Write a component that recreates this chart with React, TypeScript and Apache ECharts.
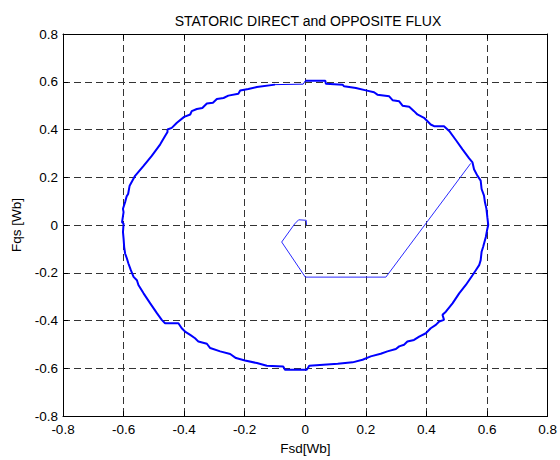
import React, { useEffect, useRef } from "react";
import * as echarts from "echarts";

const xTicks = [-0.8, -0.6, -0.4, -0.2, 0, 0.2, 0.4, 0.6, 0.8];
const yTicks = [-0.8, -0.6, -0.4, -0.2, 0, 0.2, 0.4, 0.6, 0.8];

// Thick circular flux trajectory, read clockwise from the top
const upperRight: number[][] = [
  [0.0, 0.604], [0.066, 0.604], [0.068, 0.592], [0.123, 0.588], [0.128, 0.581], [0.167, 0.574],
  [0.2, 0.564], [0.227, 0.556], [0.238, 0.546], [0.277, 0.539], [0.288, 0.523], [0.31, 0.518],
  [0.321, 0.5], [0.343, 0.495], [0.359, 0.477], [0.37, 0.463], [0.392, 0.449], [0.414, 0.421],
  [0.425, 0.414], [0.458, 0.414], [0.475, 0.394], [0.497, 0.356], [0.519, 0.317], [0.541, 0.279],
  [0.552, 0.262], [0.557, 0.234], [0.568, 0.207], [0.579, 0.186], [0.582, 0.151], [0.59, 0.123],
  [0.593, 0.096], [0.598, 0.068], [0.601, 0.033], [0.604, 0.0],
];
const lowerRight: number[][] = [
  [0.6, -0.022], [0.596, -0.05], [0.587, -0.092], [0.582, -0.112], [0.579, -0.147], [0.574, -0.168],
  [0.563, -0.189], [0.552, -0.21], [0.53, -0.251], [0.508, -0.286], [0.486, -0.328], [0.464, -0.363],
  [0.453, -0.376], [0.458, -0.397], [0.442, -0.404], [0.431, -0.418], [0.414, -0.432], [0.398, -0.453],
  [0.376, -0.467], [0.359, -0.481], [0.337, -0.488], [0.326, -0.501], [0.31, -0.508], [0.299, -0.519],
  [0.271, -0.529], [0.249, -0.539], [0.216, -0.55], [0.189, -0.564], [0.156, -0.575], [0.107, -0.581],
  [0.013, -0.589], [0.008, -0.6],
];
const lowerLeft: number[][] = [
  [0.004, -0.606], [-0.067, -0.606], [-0.073, -0.592], [-0.127, -0.589], [-0.16, -0.578], [-0.199, -0.567],
  [-0.229, -0.557], [-0.248, -0.54], [-0.281, -0.529], [-0.314, -0.515], [-0.325, -0.497], [-0.353, -0.488],
  [-0.364, -0.474], [-0.38, -0.46], [-0.397, -0.446], [-0.408, -0.432], [-0.419, -0.411], [-0.463, -0.411],
  [-0.474, -0.397], [-0.49, -0.369], [-0.512, -0.328], [-0.534, -0.286], [-0.551, -0.251], [-0.556, -0.231],
  [-0.567, -0.217], [-0.576, -0.189], [-0.584, -0.161], [-0.589, -0.14], [-0.595, -0.119], [-0.598, -0.092],
  [-0.6, -0.057], [-0.602, -0.029], [-0.6, 0.006],
];
const upperLeft: number[][] = [
  [-0.605, 0.012], [-0.6, 0.054], [-0.602, 0.068], [-0.595, 0.096], [-0.59, 0.12], [-0.585, 0.13],
  [-0.58, 0.165], [-0.562, 0.206], [-0.534, 0.248], [-0.507, 0.29], [-0.479, 0.338], [-0.463, 0.373],
  [-0.455, 0.39], [-0.455, 0.4], [-0.441, 0.407], [-0.424, 0.428], [-0.4, 0.453], [-0.38, 0.463],
  [-0.375, 0.477], [-0.358, 0.486], [-0.34, 0.49], [-0.325, 0.509], [-0.305, 0.512], [-0.292, 0.528],
  [-0.27, 0.532], [-0.254, 0.542], [-0.221, 0.55], [-0.215, 0.563], [-0.188, 0.57], [-0.16, 0.578],
  [-0.1, 0.588],
];
// Thin segment at the top of the circle
const topThin: number[][] = [[-0.1, 0.588], [-0.007, 0.59], [0.0, 0.604]];
// Thin start-up transient from the origin to the circle
const transient: number[][] = [
  [0.004, 0.0], [0.003, 0.02], [-0.022, 0.022], [-0.035, 0.005], [-0.078, -0.071],
  [0.0, -0.218], [0.266, -0.218], [0.546, 0.258],
];

const fmt = (v: number) => String(Math.round(v * 10) / 10);
const FONT = "Liberation Sans";

export default function App() {
  const ref = useRef<HTMLDivElement>(null);
  useEffect(() => {
    if (!ref.current) return;
    const chart = echarts.init(ref.current, null, { renderer: "svg" });
    const circle = [...upperRight, ...lowerRight, ...lowerLeft, ...upperLeft];
    const tickStyle = { show: true, inside: true, length: 5, lineStyle: { color: "#000", width: 1 } };
    const lineStyleAxis = { show: true, onZero: false, lineStyle: { color: "#000", width: 1 } };
    const split = { show: true, lineStyle: { color: "#333333", width: 1, type: [7, 4] as any } };
    chart.setOption({
      animation: false,
      backgroundColor: "#fff",
      title: {
        text: "STATORIC DIRECT and OPPOSITE FLUX",
        left: 303,
        top: 9,
        textAlign: "center",
        textStyle: { fontFamily: FONT, fontSize: 14, fontWeight: "normal", color: "#000" },
      },
      grid: { left: 63, right: 12, top: 34, bottom: 41, containLabel: false },
      xAxis: [
        {
          type: "value",
          position: "bottom",
          min: xTicks[0],
          max: xTicks[xTicks.length - 1],
          interval: 0.2,
          axisLine: lineStyleAxis,
          axisTick: tickStyle,
          splitLine: split,
          axisLabel: {
            formatter: fmt,
            color: "#000",
            fontFamily: FONT,
            fontSize: 13.5,
            margin: 6,
            showMinLabel: true,
            showMaxLabel: true,
          },
          name: "Fsd[Wb]",
          nameLocation: "middle",
          nameGap: 24,
          nameTextStyle: { fontFamily: FONT, fontSize: 13.5, color: "#000" },
        },
        {
          type: "value",
          position: "top",
          min: xTicks[0],
          max: xTicks[xTicks.length - 1],
          interval: 0.2,
          axisLine: lineStyleAxis,
          axisTick: tickStyle,
          splitLine: { show: false },
          axisLabel: { show: false },
        },
      ],
      yAxis: [
        {
          type: "value",
          position: "left",
          min: yTicks[0],
          max: yTicks[yTicks.length - 1],
          interval: 0.2,
          axisLine: lineStyleAxis,
          axisTick: tickStyle,
          splitLine: split,
          axisLabel: {
            formatter: fmt,
            color: "#000",
            fontFamily: FONT,
            fontSize: 13.5,
            margin: 5,
            showMinLabel: true,
            showMaxLabel: true,
          },
          name: "Fqs [Wb]",
          nameLocation: "middle",
          nameGap: 39,
          nameRotate: 90,
          nameTextStyle: { fontFamily: FONT, fontSize: 13.5, color: "#000" },
        },
        {
          type: "value",
          position: "right",
          min: yTicks[0],
          max: yTicks[yTicks.length - 1],
          interval: 0.2,
          axisLine: lineStyleAxis,
          axisTick: tickStyle,
          splitLine: { show: false },
          axisLabel: { show: false },
        },
      ],
      series: [
        {
          type: "line",
          data: circle,
          showSymbol: false,
          symbol: "none",
          lineStyle: { color: "#0000ff", width: 2 },
          z: 5,
        },
        {
          type: "line",
          data: topThin,
          showSymbol: false,
          symbol: "none",
          lineStyle: { color: "#0000ff", width: 1 },
          z: 5,
        },
        {
          type: "line",
          data: transient,
          showSymbol: false,
          symbol: "none",
          lineStyle: { color: "#2a2aff", width: 1 },
          z: 5,
        },
      ],
    });
    return () => chart.dispose();
  }, []);
  return <div ref={ref} style={{ width: 560, height: 460, position: "absolute", left: 0, top: 0 }} />;
}
